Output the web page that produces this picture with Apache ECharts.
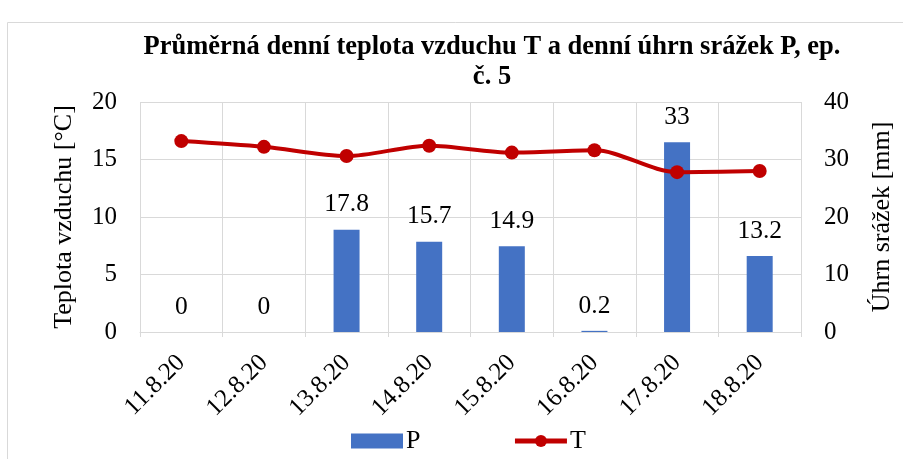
<!DOCTYPE html>
<html>
<head>
<meta charset="utf-8">
<script src="https://cdn.jsdelivr.net/npm/echarts@6/dist/echarts.min.js"></script>
<style>
  html, body { margin: 0; padding: 0; background: #fff; }
  #chart { width: 903px; height: 459px; }
</style>
</head>
<body>
<div id="chart"></div>
<script>
// data
const days = ['11.8.20', '12.8.20', '13.8.20', '14.8.20', '15.8.20', '16.8.20', '17.8.20', '18.8.20']
const precip = [0, 0, 17.8, 15.7, 14.9, 0.2, 33, 13.2]
const temp = [16.6, 16.1, 15.3, 16.2, 15.6, 15.8, 13.9, 14.0]

const serif = 'Liberation Serif'
const chart = echarts.init(document.getElementById('chart'))

const option = {
  animation: false,
  textStyle: { fontFamily: serif, color: '#000' },
  title: {
    text: 'Průměrná denní teplota vzduchu T a denní úhrn srážek P, ep.\nč. 5',
    left: 487,
    top: 27,
    textAlign: 'center',
    textStyle: { fontFamily: serif, fontSize: 26.5, fontWeight: 'bold', color: '#000', lineHeight: 30 }
  },
  graphic: [{
    type: 'rect',
    shape: { x: 7.5, y: 22.5, width: 900, height: 440 },
    style: { fill: 'none', stroke: '#d9d9d9', lineWidth: 1 },
    silent: true
  }],
  legend: {
    top: 423,
    left: 346,
    itemWidth: 52,
    itemHeight: 15,
    itemGap: 92,
    textStyle: { fontFamily: serif, fontSize: 26, color: '#000', padding: [0, 0, 0, -2] },
    data: [
      { name: 'P', icon: 'rect' },
      { name: 'T', lineStyle: { width: 5 } }
    ]
  },
  grid: { left: 140, right: 101, top: 102, bottom: 127 },
  xAxis: {
    type: 'category',
    data: days,
    axisLine: { lineStyle: { color: '#d9d9d9' } },
    axisTick: { show: true, length: 5, lineStyle: { color: '#d9d9d9' } },
    splitLine: { show: true, lineStyle: { color: '#d9d9d9' } },
    axisLabel: { rotate: 45, fontFamily: serif, fontSize: 25, color: '#000', margin: 27, interval: 0 }
  },
  yAxis: [{
    type: 'value',
    min: 0, max: 20, interval: 5,
    name: 'Teplota vzduchu [°C]',
    nameLocation: 'middle',
    nameGap: 63,
    nameTextStyle: { fontFamily: serif, fontSize: 26, color: '#000' },
    axisLine: { show: false },
    axisTick: { show: false },
    splitLine: { lineStyle: { color: '#d9d9d9' } },
    axisLabel: { fontFamily: serif, fontSize: 25, color: '#000', margin: 23 }
  }, {
    type: 'value',
    min: 0, max: 40, interval: 10,
    name: 'Úhrn srážek [mm]',
    nameLocation: 'middle',
    nameGap: 68,
    nameTextStyle: { fontFamily: serif, fontSize: 26, color: '#000' },
    axisLine: { show: false },
    axisTick: { show: false },
    splitLine: { show: false },
    axisLabel: { fontFamily: serif, fontSize: 25, color: '#000', margin: 23 }
  }],
  series: [{
    name: 'P',
    type: 'bar',
    yAxisIndex: 1,
    data: precip,
    barWidth: 26,
    itemStyle: { color: '#4472c4' },
    label: {
      show: true,
      position: 'top',
      distance: 12,
      fontFamily: serif,
      fontSize: 25.5,
      color: '#000'
    },
    z: 2
  }, {
    name: 'T',
    type: 'line',
    yAxisIndex: 0,
    data: temp,
    smooth: 0.3,
    symbol: 'circle',
    symbolSize: 14,
    lineStyle: { color: '#c00000', width: 4 },
    itemStyle: { color: '#c00000' },
    z: 3
  }]
}

chart.setOption(option)
</script>
</body>
</html>
